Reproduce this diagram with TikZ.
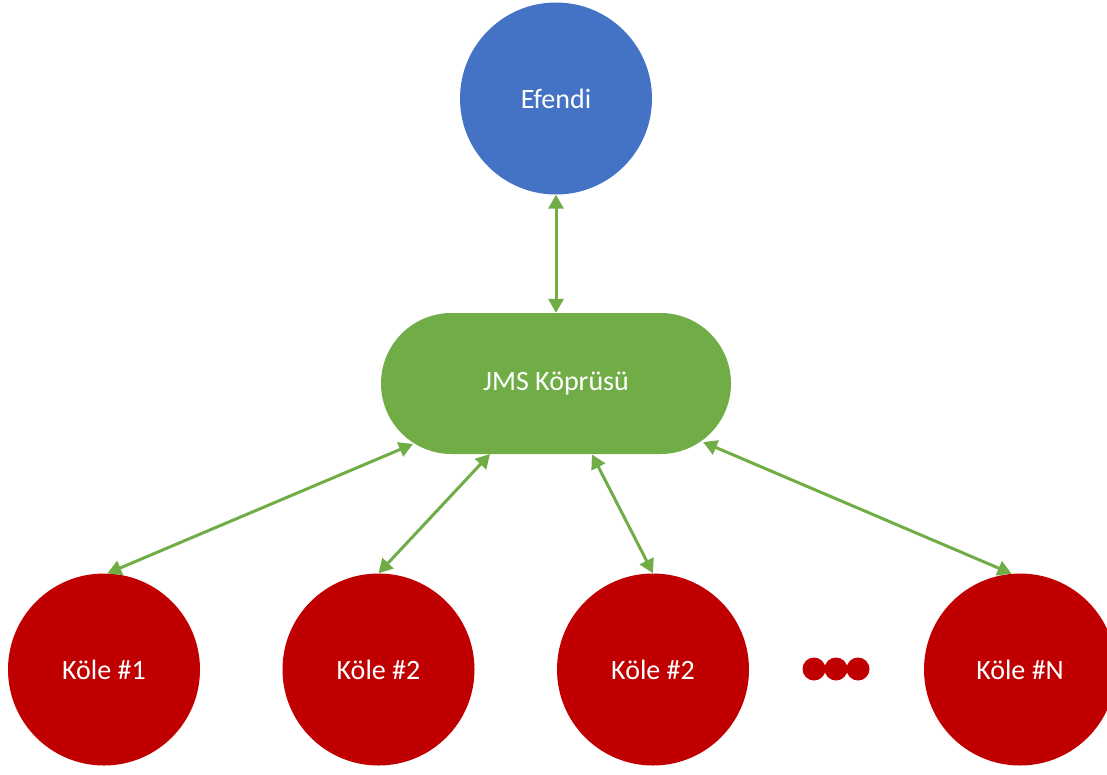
\documentclass[tikz,border=0pt]{standalone}
\usepackage{fontspec}
\setmainfont{Carlito}
\usetikzlibrary{arrows.meta,shapes.misc}
\definecolor{effblue}{HTML}{4472C4}
\definecolor{brgreen}{HTML}{70AD47}
\definecolor{slred}{HTML}{C00000}
\tikzset{
  txt/.style={text=white, font=\fontsize{28}{34}\selectfont},
  masterc/.style={circle, fill=effblue, minimum size=192pt, inner sep=0pt, txt},
  slavec/.style={circle, fill=slred, minimum size=192pt, inner sep=0pt, txt},
  bridgebox/.style={rounded rectangle, fill=brgreen, minimum width=350pt, minimum height=141pt, inner sep=0pt, txt},
  conn/.style={draw=brgreen, line width=3pt, {Triangle[length=14pt,width=15pt]}-{Triangle[length=14pt,width=15pt]}},
  dotc/.style={fill=slred}
}
\begin{document}
\begin{tikzpicture}[x=1pt,y=-1pt]
\useasboundingbox (0,0) rectangle (1107,774);
\node[masterc] (efendi) at (556,98.5) {Efendi};
\node[bridgebox] (pill) at (556,383.5) {JMS Köprüsü};
\node[slavec] (k1) at (104,669.5) {Köle \#1};
\node[slavec] (k2) at (378.5,669.5) {Köle \#2};
\node[slavec] (k3) at (653,669.5) {Köle \#2};
\node[slavec] (kn) at (1020,669.5) {Köle \#N};
\fill[dotc] (814,669) circle (11.5);
\fill[dotc] (836,669) circle (11.5);
\fill[dotc] (858,669) circle (11.5);
\draw[conn] (efendi) -- (pill);
\draw[conn] ([shift={(-143,60.5)}]pill.center) -- (k1.88);
\draw[conn] ([shift={(-66,70.5)}]pill.center) -- (k2.north);
\draw[conn] ([shift={(36,71)}]pill.center) -- (k3.north);
\draw[conn] ([shift={(147,58.5)}]pill.center) -- (kn.95);
\end{tikzpicture}
\end{document}
